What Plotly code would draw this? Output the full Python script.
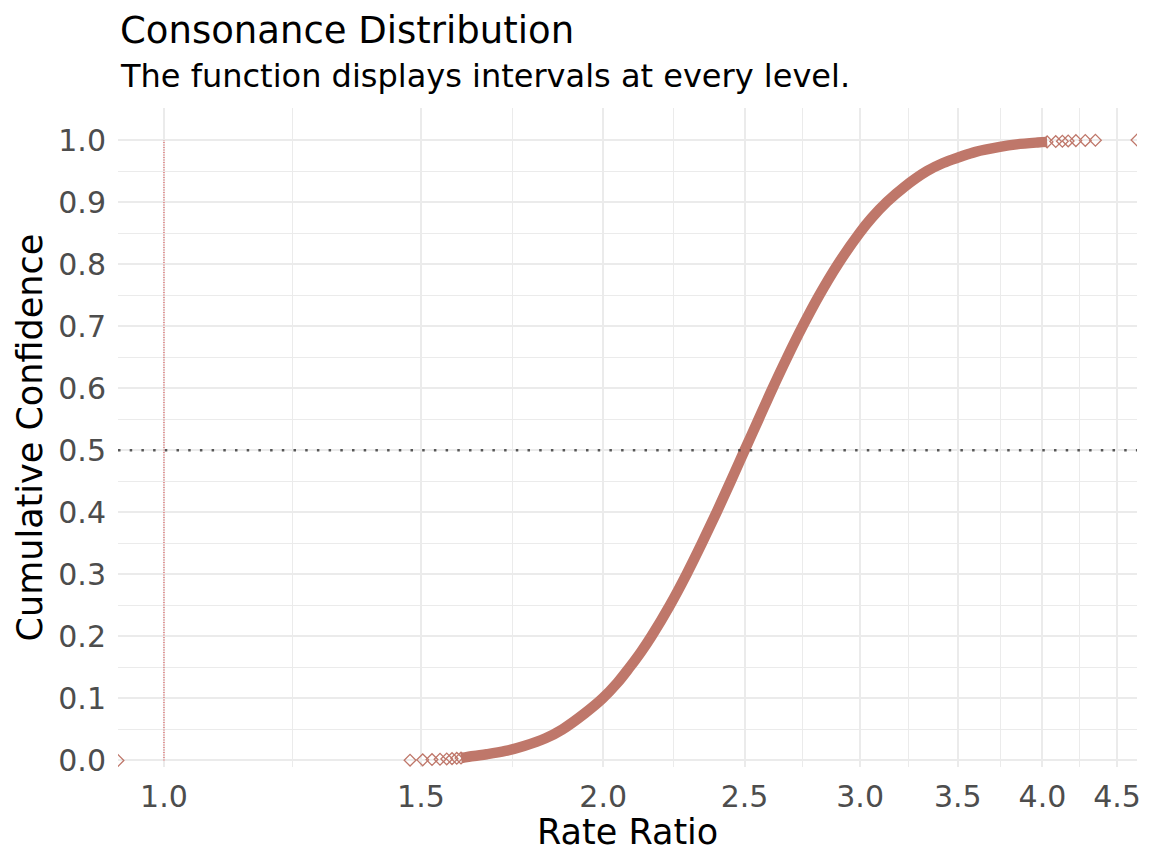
import math
import plotly.graph_objects as go

# consonance distribution (rate ratio vs cumulative confidence)
lower_tail_x = [1.4745, 1.5043, 1.5265, 1.5459, 1.5624, 1.5755, 1.5873, 1.5980]
lower_tail_y = [0.0005, 0.0010, 0.0015, 0.0020, 0.0025, 0.0030, 0.0035, 0.0040]

body_x = [1.598, 1.631, 1.664, 1.714, 1.765, 1.826, 1.875, 1.943, 1.998, 2.045,
          2.085, 2.123, 2.158, 2.222, 2.281, 2.337, 2.392, 2.446, 2.500, 2.556,
          2.613, 2.674, 2.740, 2.813, 2.897, 2.997, 3.057, 3.129, 3.219, 3.334,
          3.420, 3.510, 3.600, 3.740, 3.840, 3.970, 4.030]
body_y = [0.004, 0.0073, 0.010, 0.0153, 0.0234, 0.0358, 0.050, 0.0761, 0.100, 0.125,
          0.150, 0.175, 0.200, 0.250, 0.300, 0.350, 0.400, 0.450, 0.500, 0.550,
          0.600, 0.650, 0.700, 0.750, 0.800, 0.850, 0.875, 0.900, 0.925, 0.950,
          0.963, 0.9726, 0.981, 0.9889, 0.993, 0.996, 0.997]

upper_tail_x = [4.03, 4.085, 4.128, 4.166, 4.217, 4.28, 4.349]
upper_tail_y = [0.997, 0.9975, 0.998, 0.9985, 0.999, 0.9993, 0.9996]

edge_x = [0.93, 4.644]
edge_y = [0.0, 1.0]

x_ticks = [1.0, 1.5, 2.0, 2.5, 3.0, 3.5, 4.0, 4.5]
x_labels = ["1.0", "1.5", "2.0", "2.5", "3.0", "3.5", "4.0", "4.5"]
y_ticks = [0.0, 0.1, 0.2, 0.3, 0.4, 0.5, 0.6, 0.7, 0.8, 0.9, 1.0]

# minor grid halfway between breaks in log space (like ggplot)
x_minor = [math.sqrt(a * b) for a, b in zip(x_ticks[:-1], x_ticks[1:])]

col = "#BF776A"
grid = "#EBEBEB"
font = "DejaVu Sans"

fig = go.Figure()

# thick band made of overlapping points
fig.add_trace(go.Scatter(x=body_x, y=body_y, mode="lines",
                         line=dict(color=col, width=10.5, shape="spline", smoothing=1.0),
                         hoverinfo="skip", showlegend=False))

tail_x = lower_tail_x + upper_tail_x + edge_x
tail_y = lower_tail_y + upper_tail_y + edge_y
fig.add_trace(go.Scatter(x=tail_x, y=tail_y, mode="markers",
                         marker=dict(symbol="diamond-open", size=9, color=col,
                                     line=dict(color=col, width=1.3)),
                         cliponaxis=True, showlegend=False))

# null value line at 1
fig.add_trace(go.Scatter(x=[1.0, 1.0], y=[0.0, 1.0], mode="lines",
                         line=dict(color="rgba(220,40,40,0.9)", width=1, dash="1px,1.5px"),
                         hoverinfo="skip", showlegend=False))

fig.add_shape(type="line", xref="paper", x0=0, x1=1, yref="y", y0=0.5, y1=0.5,
              line=dict(color="rgba(60,60,60,0.85)", width=2.5, dash="2.5px,9.2px"))

fig.update_xaxes(type="log", range=[math.log10(0.93), math.log10(4.644)],
                 tickmode="array", tickvals=x_ticks, ticktext=x_labels,
                 showgrid=True, gridcolor=grid, gridwidth=2.2,
                 minor=dict(tickvals=x_minor, showgrid=True, gridcolor=grid, gridwidth=1.2),
                 zeroline=False, showline=False, ticks="",
                 ticklabelstandoff=9, automargin=False,
                 tickfont=dict(family=font, size=30, color="#4D4D4D"))

fig.update_yaxes(range=[-0.0105, 1.0516], tickmode="array", tickvals=y_ticks,
                 tickformat=".1f",
                 showgrid=True, gridcolor=grid, gridwidth=2.2,
                 minor=dict(dtick=0.05, tick0=0, showgrid=True, gridcolor=grid, gridwidth=1.2),
                 zeroline=False, showline=False, ticks="",
                 ticklabelstandoff=11, automargin=False,
                 tickfont=dict(family=font, size=30, color="#4D4D4D"))

# page body has an 8px margin, so the figure is offset by that
fig.update_layout(
    width=1152, height=864,
    margin=dict(l=110, r=23, t=100, b=105),
    paper_bgcolor="white", plot_bgcolor="white",
    font=dict(family=font, color="black"),
    annotations=[
        dict(text="Consonance Distribution", xref="paper", yref="paper", x=0, y=1.117,
             xanchor="left", yanchor="middle", showarrow=False,
             font=dict(family=font, size=37, color="black")),
        dict(text="The function displays intervals at every level.", xref="paper", yref="paper",
             x=0, y=1.048, xanchor="left", yanchor="middle", showarrow=False,
             font=dict(family=font, size=32, color="black")),
        dict(text="Rate Ratio", xref="paper", yref="paper", x=0.5, y=-0.0987,
             xanchor="center", yanchor="middle", showarrow=False,
             font=dict(family=font, size=35, color="black")),
        dict(text="Cumulative Confidence", xref="paper", yref="paper", x=-0.0864, y=0.5,
             xanchor="center", yanchor="middle", textangle=-90, showarrow=False,
             font=dict(family=font, size=35, color="black")),
    ],
)

fig.write_html("out.html")
